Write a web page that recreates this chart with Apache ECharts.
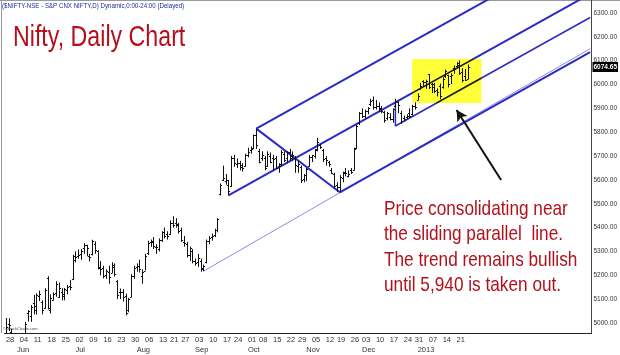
<!DOCTYPE html>
<html>
<head>
<meta charset="utf-8">
<style>
  html, body { margin: 0; padding: 0; background: #fff; }
  #chart { width: 620px; height: 355px; }
</style>
<script src="https://cdn.jsdelivr.net/npm/echarts@6.0.0/dist/echarts.min.js"></script>
</head>
<body>
<div id="chart"></div>
<script>
// trading calendar (NSE), plus empty slots to the right of the last bar
var firstDay = '2012-05-28';
var holidays = ['2012-08-15', '2012-08-20', '2012-09-19', '2012-10-02', '2012-10-24',
  '2012-11-14', '2012-11-28', '2012-12-25'];
var slotCount = 211;

// daily OHLC, 28 May 2012 .. 25 Jan 2013
var opens = [
  4935, 4994, 4963, 4911,
  4910, 4780, 4853, 4870, 5042, 5029, 5084, 5070, 5113, 5090, 5062, 5187, 5056, 5097, 5124, 5110, 5130, 5122, 5140, 5155, 5183,
  5263, 5280, 5290, 5313, 5325, 5281, 5290, 5331, 5300, 5230, 5232, 5200, 5215, 5210, 5235, 5175, 5128, 5130, 5112, 5053, 5110, 5195,
  5235, 5240, 5195, 5220, 5295, 5340, 5345, 5318, 5310, 5350, 5380, 5372, 5375, 5418, 5418, 5410, 5390, 5340, 5330, 5285, 5300,
  5260, 5255, 5260, 5230, 5255, 5345, 5360, 5370, 5390, 5540, 5600, 5595, 5580, 5575, 5690, 5665, 5670, 5655, 5660,
  5705, 5725, 5735, 5790, 5720, 5690, 5690, 5660, 5700, 5690, 5690, 5660, 5665, 5710, 5690, 5715, 5700, 5690, 5660, 5655, 5605,
  5620, 5660, 5695, 5700, 5730, 5745, 5725, 5690, 5675, 5640, 5625, 5580, 5570, 5610, 5635, 5615, 5640, 5640, 5735, 5840,
  5880, 5870, 5890, 5920, 5935, 5905, 5910, 5900, 5885, 5860, 5865, 5855, 5910, 5925, 5880, 5860, 5865, 5880, 5875, 5910,
  5937, 5982, 6016, 6011, 6043, 6002, 5991, 5975, 5992, 5990, 6036, 6040, 6034, 6068, 6076, 6090, 6052, 6037, 6024
];
var highs = [
  5021, 5020, 4975, 4946,
  4924, 4854, 4876, 5005, 5054, 5075, 5118, 5124, 5136, 5095, 5146, 5196, 5120, 5128, 5175, 5170, 5146, 5147, 5160, 5180, 5286,
  5300, 5308, 5310, 5335, 5328, 5290, 5349, 5342, 5305, 5260, 5240, 5225, 5240, 5255, 5250, 5180, 5145, 5142, 5123, 5105, 5205, 5240,
  5250, 5265, 5225, 5290, 5345, 5350, 5360, 5330, 5355, 5385, 5400, 5385, 5430, 5448, 5440, 5420, 5400, 5365, 5340, 5320, 5310,
  5270, 5290, 5270, 5245, 5350, 5365, 5375, 5395, 5440, 5585, 5660, 5625, 5600, 5700, 5705, 5690, 5680, 5670, 5710,
  5735, 5740, 5790, 5815, 5730, 5720, 5700, 5720, 5715, 5705, 5700, 5670, 5725, 5720, 5720, 5730, 5720, 5700, 5680, 5660, 5625,
  5650, 5705, 5705, 5730, 5777, 5750, 5730, 5700, 5680, 5650, 5630, 5590, 5620, 5635, 5650, 5640, 5650, 5735, 5830, 5885,
  5900, 5895, 5905, 5940, 5950, 5935, 5925, 5910, 5890, 5885, 5880, 5900, 5940, 5930, 5890, 5870, 5875, 5900, 5915, 5925,
  5963, 6007, 6018, 6020, 6043, 6007, 6007, 5984, 6004, 6031, 6063, 6041, 6047, 6080, 6094, 6101, 6069, 6065, 6084
];
var lows = [
  4928, 4966, 4914, 4889,
  4831, 4770, 4830, 4865, 5006, 5005, 5036, 5035, 5092, 5036, 5059, 5057, 5040, 5095, 5110, 5105, 5095, 5095, 5120, 5137, 5180,
  5254, 5270, 5265, 5290, 5280, 5258, 5283, 5290, 5225, 5200, 5187, 5185, 5165, 5210, 5195, 5100, 5100, 5090, 5032, 5045, 5108, 5185,
  5215, 5212, 5165, 5220, 5285, 5320, 5310, 5290, 5300, 5340, 5355, 5350, 5370, 5400, 5400, 5375, 5340, 5320, 5275, 5260, 5250,
  5240, 5235, 5215, 5217, 5250, 5330, 5345, 5360, 5380, 5535, 5595, 5580, 5535, 5570, 5655, 5650, 5640, 5635, 5655,
  5695, 5710, 5730, 5730, 5670, 5680, 5640, 5655, 5670, 5640, 5645, 5630, 5660, 5675, 5670, 5680, 5680, 5630, 5630, 5587, 5590,
  5595, 5655, 5675, 5690, 5720, 5730, 5675, 5660, 5655, 5625, 5565, 5550, 5548, 5590, 5615, 5610, 5625, 5640, 5730, 5830,
  5860, 5855, 5875, 5910, 5895, 5895, 5885, 5880, 5840, 5850, 5850, 5840, 5905, 5880, 5835, 5845, 5855, 5860, 5870, 5895,
  5935, 5981, 5994, 5982, 5981, 5964, 5964, 5950, 5938, 5983, 6028, 5988, 6002, 6045, 6068, 6041, 6009, 6015, 6022
];
var closes = [
  4985, 4990, 4950, 4924,
  4842, 4848, 4864, 4997, 5050, 5068, 5054, 5116, 5122, 5054, 5139, 5064, 5103, 5120, 5165, 5146, 5114, 5141, 5149, 5149, 5279,
  5278, 5287, 5302, 5327, 5316, 5275, 5345, 5306, 5235, 5227, 5197, 5216, 5192, 5242, 5205, 5117, 5128, 5109, 5043, 5099, 5199, 5229,
  5240, 5228, 5215, 5282, 5336, 5338, 5322, 5320, 5347, 5380, 5363, 5366, 5421, 5413, 5415, 5387, 5350, 5334, 5287, 5315, 5258,
  5253, 5274, 5225, 5238, 5342, 5358, 5363, 5390, 5435, 5577, 5610, 5600, 5554, 5691, 5669, 5673, 5663, 5649, 5703,
  5718, 5731, 5787, 5746, 5676, 5705, 5652, 5708, 5676, 5687, 5648, 5660, 5718, 5683, 5717, 5691, 5705, 5664, 5665, 5598, 5619,
  5645, 5697, 5704, 5724, 5760, 5738, 5686, 5684, 5666, 5631, 5574, 5571, 5614, 5627, 5627, 5626, 5635, 5728, 5825, 5880,
  5870, 5889, 5900, 5930, 5907, 5909, 5898, 5888, 5851, 5879, 5857, 5896, 5929, 5916, 5847, 5855, 5870, 5870, 5908, 5905,
  5951, 5993, 6009, 6016, 5988, 6001, 5971, 5968, 5951, 6024, 6056, 6001, 6039, 6064, 6082, 6048, 6019, 6019, 6074.65
];

// y axis labels
var yTicks = [5000, 5100, 5200, 5300, 5400, 5500, 5600, 5700, 5800, 5900, 6000, 6100, 6200, 6300];

// drawn lines, [bar index, price]
var pitchforkTop = [[90, 5815], [210, 6595]];
var pitchforkMedian = [[80, 5535], [210, 6380]];
var pitchforkCross = [[90, 5815], [120, 5548]];
var pitchforkLower = [[120, 5548], [210, 6136]];
var septemberLine = [[71, 5217], [210, 6150]];
var slidingParallel = [[140, 5826], [210, 6281]];
var slideConnector = [[140, 5925], [140, 5826]];
var highlightBox = [[146, 171, 5922, 6107]];
var arrowFrom = [178, 5600];
var arrowTo = [162, 5893];

var SANS = '"Liberation Sans", Arial, sans-serif';
var LINE_BLUE = '#2b2bc4';
var NOTE_RED = '#b3101c';
var MONTHS = ['Jan', 'Feb', 'Mar', 'Apr', 'May', 'Jun', 'Jul', 'Aug', 'Sep', 'Oct', 'Nov', 'Dec'];

// build the trading day list
var dates = [];
(function () {
  var d = new Date(firstDay + 'T00:00:00Z');
  while (dates.length < slotCount) {
    var s = d.toISOString().slice(0, 10);
    var wd = d.getUTCDay();
    if (wd !== 0 && wd !== 6 && holidays.indexOf(s) < 0) dates.push(s);
    d.setUTCDate(d.getUTCDate() + 1);
  }
})();

var lastBar = closes.length - 1;
var weekStart = dates.map(function (s, i) {
  if (i > lastBar) return false;
  if (i === 0) return true;
  var a = new Date(s + 'T00:00:00Z'), b = new Date(dates[i - 1] + 'T00:00:00Z');
  return a.getUTCDay() <= b.getUTCDay() || (a - b) > 4 * 86400000;
});
var monthStart = dates.map(function (s, i) {
  if (i === 0 || i > lastBar) return false;
  return s.slice(5, 7) !== dates[i - 1].slice(5, 7);
});

var ohlcData = closes.map(function (c, i) {
  return [i, opens[i], highs[i], lows[i], c];
});

function renderBar(params, api) {
  var i = api.value(0);
  var o = api.coord([i, api.value(1)]);
  var h = api.coord([i, api.value(2)]);
  var l = api.coord([i, api.value(3)]);
  var c = api.coord([i, api.value(4)]);
  var x = Math.round(h[0]) + 0.5;
  var oy = Math.round(o[1]) + 0.5, cy = Math.round(c[1]) + 0.5;
  return {
    type: 'group',
    children: [
      { type: 'line', shape: { x1: x, y1: h[1], x2: x, y2: l[1] }, style: { stroke: '#111', lineWidth: 1 } },
      { type: 'line', shape: { x1: x - 1.6, y1: oy, x2: x, y2: oy }, style: { stroke: '#111', lineWidth: 1 } },
      { type: 'line', shape: { x1: x, y1: cy, x2: x + 1.6, y2: cy }, style: { stroke: '#111', lineWidth: 1 } }
    ]
  };
}

// yellow highlight; the lines crossing it show dark through the yellow
function renderBox(params, api) {
  var p1 = api.coord([api.value(0), api.value(3)]);
  var p2 = api.coord([api.value(1), api.value(2)]);
  var box = { x: p1[0], y: p1[1], width: p2[0] - p1[0], height: p2[1] - p1[1] };
  var children = [{ type: 'rect', shape: box, style: { fill: '#ffff3a' } }];
  [pitchforkMedian, slidingParallel].forEach(function (seg) {
    var a = api.coord(seg[0]), b = api.coord(seg[1]);
    children.push({
      type: 'line', shape: { x1: a[0], y1: a[1], x2: b[0], y2: b[1] },
      style: { stroke: '#1b1b12', lineWidth: 1.6 }
    });
  });
  return { type: 'group', clipPath: { type: 'rect', shape: box }, children: children };
}

// last close tag on the price axis
function renderTag(params, api) {
  var p = api.coord([api.value(0), api.value(1)]);
  var cs = params.coordSys;
  return {
    type: 'text',
    x: cs.x + cs.width + 1, y: Math.round(p[1]),
    style: {
      text: api.value(1).toFixed(2), fill: '#fff', backgroundColor: '#000',
      fontSize: 6.5, fontWeight: 'bold', fontFamily: SANS,
      padding: [2, 1, 1, 1], verticalAlign: 'middle', align: 'left'
    }
  };
}

function trendLine(data, color, width) {
  return {
    type: 'line', data: data, symbol: 'none', silent: true, z: 2,
    lineStyle: { color: color, width: width }, clip: true
  };
}

var chart = echarts.init(document.getElementById('chart'));
chart.setOption({
  animation: false,
  grid: { left: 4.5, right: 25, top: 0, bottom: 22 },
  xAxis: [
    {
      type: 'category', data: dates,
      axisLine: { lineStyle: { color: '#222', width: 1 } },
      axisTick: { show: false },
      splitLine: { show: false },
      axisLabel: {
        interval: function (i) { return weekStart[i]; },
        formatter: function (v) { return v.slice(8, 10); },
        align: 'left', margin: 3, fontSize: 7.5, color: '#333', fontFamily: SANS
      }
    },
    {
      type: 'category', data: dates, position: 'bottom',
      axisLine: { show: false }, axisTick: { show: false }, splitLine: { show: false },
      axisLabel: {
        interval: function (i) { return monthStart[i]; },
        formatter: function (v) {
          var m = +v.slice(5, 7) - 1;
          return m === 0 ? v.slice(0, 4) : MONTHS[m];
        },
        align: 'left', margin: 13, fontSize: 7.5, color: '#333', fontFamily: SANS
      }
    }
  ],
  yAxis: {
    type: 'value', position: 'right', min: 4958, max: 6354.5,
    axisLine: { show: true, lineStyle: { color: '#444' } },
    axisTick: { show: false },
    splitLine: { show: false },
    axisLabel: {
      customValues: yTicks,
      formatter: function (v) { return v.toFixed(2); },
      fontSize: 6.5, margin: 2, color: '#333', fontFamily: SANS
    }
  },
  series: [
    trendLine(septemberLine, '#8a8ae6', 1),
    trendLine(pitchforkLower, LINE_BLUE, 2),
    trendLine(pitchforkTop, LINE_BLUE, 2),
    trendLine(pitchforkMedian, LINE_BLUE, 2),
    trendLine(pitchforkCross, LINE_BLUE, 2),
    trendLine(slidingParallel, LINE_BLUE, 1.5),
    trendLine(slideConnector, LINE_BLUE, 1.5),
    {
      type: 'custom', data: highlightBox, clip: true, silent: true, z: 3,
      encode: { x: [0, 1], y: [2, 3] },
      renderItem: renderBox
    },
    {
      type: 'custom', name: 'NIFTY', data: ohlcData, clip: true, silent: true, z: 4,
      encode: { x: 0, y: [1, 2, 3, 4] },
      renderItem: renderBar
    },
    {
      type: 'custom', data: [[lastBar, closes[lastBar]]], clip: false, silent: true, z: 12,
      encode: { x: 0, y: 1 },
      renderItem: renderTag
    },
    {
      type: 'line', data: [], z: 12,
      markLine: {
        silent: true, animation: false,
        symbol: ['none', 'arrow'], symbolSize: [9, 11],
        lineStyle: { color: '#111', width: 2, type: 'solid' },
        label: { show: false },
        data: [[{ coord: arrowFrom }, { coord: arrowTo }]]
      }
    }
  ],
  graphic: [
    { type: 'line', shape: { x1: 0, y1: 0.5, x2: 620, y2: 0.5 }, style: { stroke: '#999', lineWidth: 1 } },
    { type: 'line', shape: { x1: 1.5, y1: 0, x2: 1.5, y2: 333 }, style: { stroke: '#999', lineWidth: 1 } },
    {
      type: 'text', left: 2, top: 2, scaleX: 0.77,
      style: { text: '($NIFTY-NSE - S&P CNX NIFTY,D) Dynamic,0:00-24:00 (Delayed)', fill: '#1d2c9e',
        fontSize: 8, fontFamily: SANS }
    },
    {
      type: 'text', left: 13, top: 23, scaleX: 0.8,
      style: { text: 'Nifty, Daily Chart', fill: NOTE_RED, fontSize: 29, fontFamily: SANS }
    },
    {
      type: 'text', left: 384, top: 196, scaleX: 0.82,
      style: {
        text: 'Price consolidating near\nthe sliding parallel  line.\nThe trend remains bullish\nuntil 5,940 is taken out.',
        fill: NOTE_RED, fontSize: 21, lineHeight: 25.5, fontFamily: SANS
      }
    },
    {
      type: 'text', left: 3, top: 327,
      style: { text: '\u00a9 StockCharts.com', fill: '#444', fontSize: 4, fontFamily: SANS }
    }
  ]
});
</script>
</body>
</html>
